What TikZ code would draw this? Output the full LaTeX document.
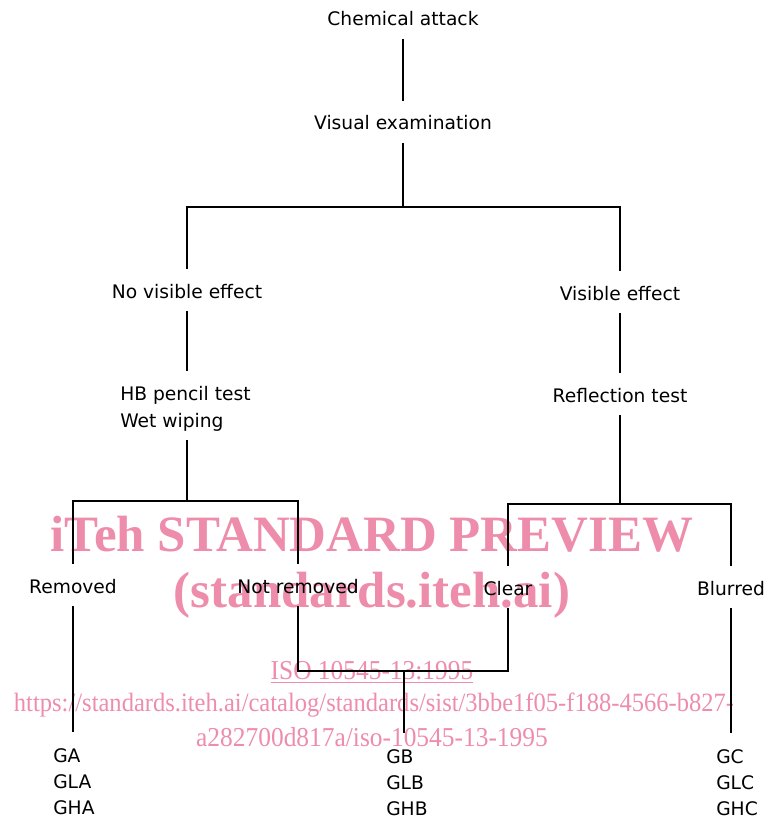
\documentclass[tikz,border=0pt]{standalone}
\usepackage{fontspec}
\newfontfamily\lbfont{DejaVu Sans}
\newfontfamily\wmfont{Liberation Serif}
\newfontfamily\wmnarrow[FakeStretch=0.93]{Liberation Serif}
\definecolor{wmpink}{RGB}{238,140,172}
\tikzset{
  lbl/.style={font={\lbfont\fontsize{14}{19.5}\selectfont}, inner xsep=0pt, inner ysep=9pt,
    text height=12.75pt, text depth=0.75pt},
  grp/.style={font={\lbfont\fontsize{14}{19.5}\selectfont}, align=left, inner xsep=0pt,
    inner ysep=12.25pt, anchor=north west},
  wm/.style={text=wmpink, inner sep=0pt},
  link/.style={line width=0.9pt}
}
\begin{document}
\begin{tikzpicture}[x=0.75pt, y=-0.75pt]
    \useasboundingbox (0,0) rectangle (770,820);

    % 1. Watermark behind the chart
    \node[wm, font={\wmfont\bfseries\fontsize{38.2}{40}\selectfont}] (wmA) at (372,534) {iTeh STANDARD PREVIEW};
    \node[wm, font={\wmfont\bfseries\fontsize{38.2}{40}\selectfont}] (wmB) at (372,595) {(standards.iteh.ai)};
    \node[wm, font={\wmnarrow\fontsize{20.5}{22}\selectfont}] (wmC) at (372,672) {\underline{ISO 10545-13:1995}};
    \node[wm, font={\wmnarrow\fontsize{19.8}{22}\selectfont}] (wmD) at (374,705) {https://standards.iteh.ai/catalog/standards/sist/3bbe1f05-f188-4566-b827-};
    \node[wm, font={\wmnarrow\fontsize{20.5}{22}\selectfont}] (wmE) at (372,737) {a282700d817a/iso-10545-13-1995};

    % 2. Labels of the chart
    \node[lbl] (chem) at (403,18) {Chemical attack};
    \node[lbl] (vis)  at (403,122) {Visual examination};
    \node[lbl] (nve)  at (187,290) {No visible effect};
    \node[lbl] (ve)   at (620,292) {Visible effect};
    \node[lbl, anchor=west] (hb) at (120,392) {HB pencil test};
    \node[lbl, anchor=west] (ww) at (120,419) {Wet wiping};
    \node[lbl] (refl) at (620,394) {Reflection test};
    \node[lbl] (rem)  at (73,585) {Removed};
    \node[lbl] (nrem) at (298,585) {Not removed};
    \node[lbl] (clr)  at (508,587) {Clear};
    \node[lbl] (blr)  at (731,587) {Blurred};

    \node[grp] (gA) at (53,732) {GA\\GLA\\GHA};
    \node[grp] (gB) at (386,733) {GB\\GLB\\GHB};
    \node[grp] (gC) at (716,733) {GC\\GLC\\GHC};

    % 3. Branch points
    \coordinate (s1) at (403,207);
    \coordinate (s2) at (187,501);
    \coordinate (s3) at (620,504);
    \coordinate (m)  at (404,671);

    % 4. Connecting lines
    \draw[link] (chem.south) -- (vis.north);
    \draw[link] (vis.south) -- (s1);
    \draw[link] (nve.north) |- (s1) -| (ve.north);
    \draw[link] (nve.south) -- (nve.south |- hb.north);
    \draw[link] (ww.south -| nve.south) -- (s2);
    \draw[link] (rem.north) |- (s2) -| (nrem.north);
    \draw[link] (ve.south) -- (refl.north);
    \draw[link] (refl.south) -- (s3);
    \draw[link] (clr.north) |- (s3) -| (blr.north);
    \draw[link] (nrem.south) |- (m) -| (clr.south);
    \draw[link] (rem.south) -- (rem.south |- gA.north);
    \draw[link] (m) -- (m |- gB.north);
    \draw[link] (blr.south) -- (blr.south |- gC.north);
\end{tikzpicture}
\end{document}
